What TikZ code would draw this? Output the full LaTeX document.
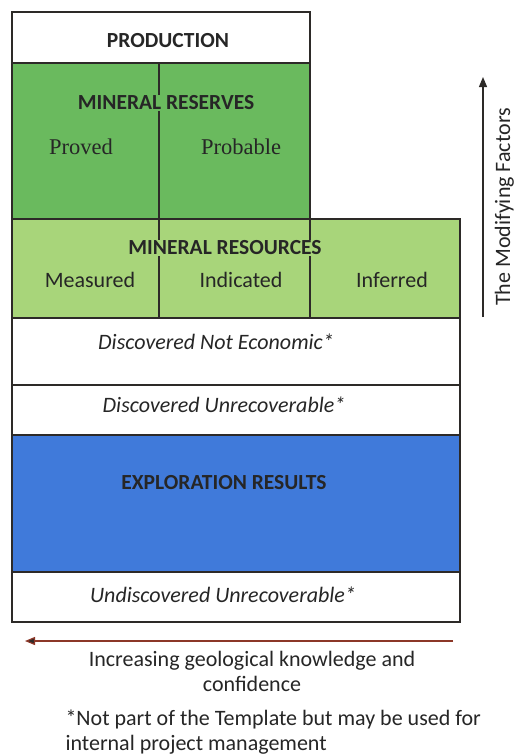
\documentclass[tikz,border=0pt]{standalone}
\usepackage{fontspec}
\setmainfont{Carlito}
\newfontfamily\serifface{Liberation Serif}
\usetikzlibrary{arrows.meta}

\definecolor{reservegreen}{RGB}{106,186,94}
\definecolor{resourcegreen}{RGB}{168,213,122}
\definecolor{exploreblue}{RGB}{64,122,218}
\definecolor{framegray}{RGB}{45,42,40}
\definecolor{arrowred}{RGB}{140,55,40}

\tikzset{
    chart frame/.style={
      draw=framegray,
      line width=1.6pt
    },
    reserve fill/.style={
      fill=reservegreen
    },
    resource fill/.style={
      fill=resourcegreen
    },
    explore fill/.style={
      fill=exploreblue
    },
    head label/.style={
      font=\fontsize{21.5}{25}\selectfont\bfseries,
      text=black!85
    },
    body label/.style={
      font=\fontsize{22}{25}\selectfont,
      text=black!85
    },
    serif label/.style={
      font=\fontsize{22.5}{25}\selectfont\serifface,
      text=black!85
    },
    note label/.style={
      font=\fontsize{22}{25}\selectfont\itshape,
      text=black!85
    }
  }

\begin{document}
\begin{tikzpicture}[x=1pt,y=-1pt]
      \useasboundingbox[fill=white] (0,0) rectangle (517,756);

      % fills
      \fill[reserve fill] (12,63) rectangle (310,219);
      \fill[resource fill] (12,219) rectangle (460,318);
      \fill[explore fill] (12,435) rectangle (460,572);

      % frames
      \draw[chart frame] (12,12) rectangle (310,63);
      \draw[chart frame] (12,63) rectangle (310,219);
      \draw[chart frame] (12,219) rectangle (460,318);
      \draw[chart frame] (12,318) rectangle (460,385);
      \draw[chart frame] (12,385) rectangle (460,435);
      \draw[chart frame] (12,435) rectangle (460,572);
      \draw[chart frame] (12,572) rectangle (460,622);
      \draw[chart frame] (159,63) -- (159,318);
      \draw[chart frame] (310,219) -- (310,318);

      % labels
      \node[head label] (production) at (168,41) {PRODUCTION};
      \node[head label, fill=reservegreen, inner sep=1pt] (reserves) at (166,103) {MINERAL RESERVES};
      \node[serif label] (proved) at (81,147) {Proved};
      \node[serif label] (probable) at (241,147) {Probable};
      \node[head label, fill=resourcegreen, inner sep=1pt] (resources) at (225,248) {MINERAL RESOURCES};
      \node[body label] (measured) at (90,280) {Measured};
      \node[body label] (indicated) at (241,280) {Indicated};
      \node[body label] (inferred) at (392,280) {Inferred};
      \node[note label] (noteconomic) at (216,342) {Discovered Not Economic*};
      \node[note label] (unrecoverable) at (224,405) {Discovered Unrecoverable*};
      \node[head label] (exploration) at (224,483) {EXPLORATION RESULTS};
      \node[note label] (undiscovered) at (223,595) {Undiscovered Unrecoverable*};

      % arrows
      \coordinate (knowstart) at (453,641);
      \coordinate (knowend) at (25,641);
      \draw[arrowred, line width=1.2pt, -{Triangle[length=10pt,width=8pt,fill=framegray]}] (knowstart) -- (knowend);
      \coordinate (factorstart) at (483,317);
      \coordinate (factorend) at (483,77);
      \draw[framegray, line width=1.2pt, -{Triangle[length=10pt,width=8pt]}] (factorstart) -- (factorend);

      \node[body label, rotate=90, anchor=base] (factors) at (510,207) {The Modifying Factors};
      \node[body label, align=center] (knowledge) at (252,671) {Increasing geological knowledge and\\confidence};
      \node[body label, align=left, anchor=north west] (footnote) at (62,706) {*Not part of the Template but may be used for\\internal project management};
    \end{tikzpicture}
\end{document}
